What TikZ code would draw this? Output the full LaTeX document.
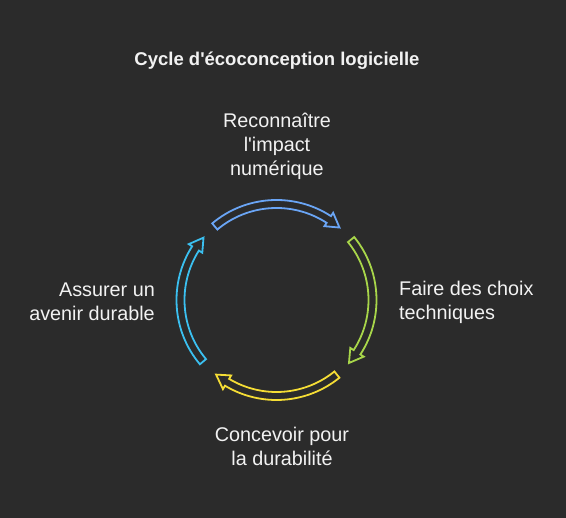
\documentclass[tikz,border=0pt]{standalone}
\usepackage{fontspec}
\setmainfont{Liberation Sans}[Ligatures=TeXOff]
\definecolor{bg}{HTML}{2B2B2B}
\definecolor{txt}{HTML}{F2F2F2}
\definecolor{cblue}{HTML}{6AA5F5}
\definecolor{cgreen}{HTML}{A8D64A}
\definecolor{cyellow}{HTML}{F5DD35}
\definecolor{ccyan}{HTML}{3BC0F0}
\newcommand\cycarrow[3]{% colour, tail angle, tip angle
  \pgfmathsetmacro\hb{#3+8}
  \draw[arrowline,#1] ([shift={(c)}]#2:100) arc[start angle=#2, end angle=\hb, radius=100]
    -- ([shift={(c)}]\hb:104) -- ([shift={(c)}]#3:96) -- ([shift={(c)}]\hb:88)
    -- ([shift={(c)}]\hb:92) arc[start angle=\hb, end angle=#2, radius=92] -- cycle;}
\begin{document}
\begin{tikzpicture}[x=1pt,y=1pt,
  arrowline/.style={line width=1.8pt, line join=miter},
  lbl/.style={text=txt, inner sep=0pt, font=\fontsize{19.8}{24}\selectfont},
  ttl/.style={text=txt, inner sep=0pt, font=\bfseries\fontsize{18.5}{20}\selectfont}]
\fill[bg] (0,0) rectangle (566,-518);
\useasboundingbox (0,0) rectangle (566,-518);
\coordinate (c) at (276.5,-300);
\cycarrow{cblue}{130}{49}
\cycarrow{cgreen}{39}{-41}
\cycarrow{cyellow}{-51}{-129}
\cycarrow{ccyan}{220}{139.5}
\node[ttl] (title) at (277,-61) {Cycle d'écoconception logicielle};
\node[lbl, align=center] (top) at (277,-146) {Reconnaître\\l'impact\\numérique};
\node[lbl, align=left, anchor=west] (right) at (399,-302) {Faire des choix\\techniques};
\node[lbl, align=right, anchor=east] (left) at (155,-302) {Assurer un\\avenir durable};
\node[lbl, align=center] (bottom) at (282,-446) {Concevoir pour\\la durabilité};
\end{tikzpicture}
\end{document}
